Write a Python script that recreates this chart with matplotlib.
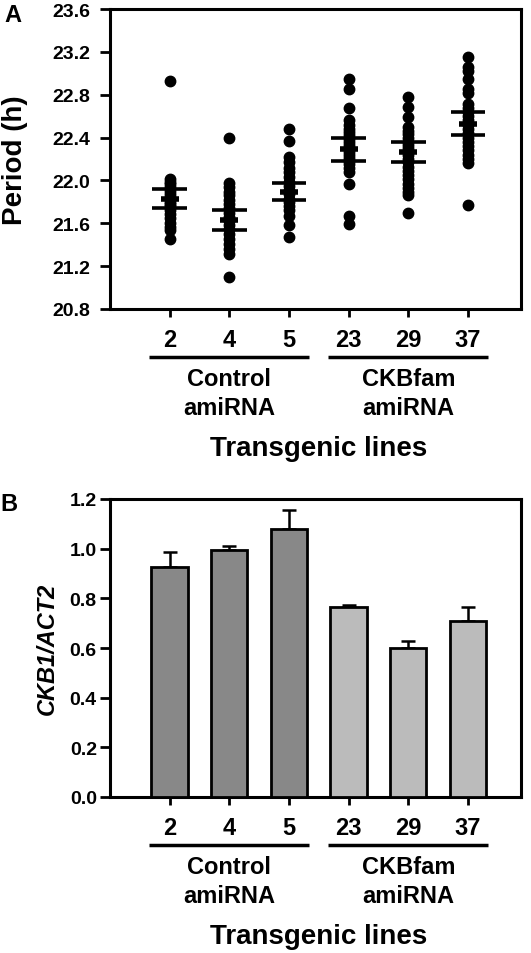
import numpy as np
import matplotlib
matplotlib.use("Agg")
import matplotlib.pyplot as plt

plt.rcParams['font.family'] = ['Liberation Sans', 'DejaVu Sans']
plt.rcParams['font.weight'] = 'bold'

lines = ['2', '4', '5', '23', '29', '37']

# free-running period of individual seedlings (h)
period_2 = [22.93, 22.01, 21.99, 21.97, 21.94, 21.90, 21.87, 21.85, 21.83, 21.80,
            21.78, 21.76, 21.72, 21.69, 21.65, 21.60, 21.57, 21.54, 21.45]
period_4 = [22.40, 21.98, 21.94, 21.89, 21.86, 21.82, 21.78, 21.74, 21.70, 21.66,
            21.62, 21.58, 21.55, 21.50, 21.45, 21.41, 21.36, 21.31, 21.10]
period_5 = [22.48, 22.37, 22.22, 22.17, 22.12, 22.08, 22.03, 21.99, 21.95, 21.91,
            21.87, 21.83, 21.80, 21.76, 21.72, 21.67, 21.58, 21.47]
period_23 = [22.95, 22.85, 22.68, 22.56, 22.52, 22.48, 22.45, 22.42, 22.39, 22.36,
             22.33, 22.30, 22.27, 22.24, 22.21, 22.18, 22.15, 22.12, 22.08, 21.97,
             21.67, 21.59]
period_29 = [22.78, 22.69, 22.59, 22.50, 22.46, 22.43, 22.40, 22.36, 22.33, 22.30,
             22.27, 22.24, 22.20, 22.17, 22.13, 22.09, 22.05, 22.01, 21.97, 21.93,
             21.89, 21.86, 21.70]
period_37 = [23.15, 23.06, 23.02, 22.95, 22.85, 22.82, 22.71, 22.68, 22.64, 22.60,
             22.56, 22.52, 22.48, 22.44, 22.40, 22.36, 22.32, 22.28, 22.24, 22.20,
             22.16, 21.77]

period_mean = [21.83, 21.63, 21.895, 22.29, 22.265, 22.53]
period_sem = [0.09, 0.09, 0.08, 0.105, 0.09, 0.11]

# CKB1 expression relative to ACT2
ckb1 = [0.926, 0.996, 1.079, 0.767, 0.602, 0.708]
ckb1_err = [0.062, 0.016, 0.075, 0.008, 0.028, 0.056]
bar_colors = ['#888888', '#888888', '#888888', '#bbbbbb', '#bbbbbb', '#bbbbbb']

groups = ['Control\namiRNA', 'CKBfam\namiRNA']

W, H = 531, 954
fig = plt.figure(figsize=(W / 100, H / 100), dpi=100)


def px_axes(left, top, right, bottom):
    return fig.add_axes([left / W, 1 - bottom / H, (right - left) / W, (bottom - top) / H])


ax1 = px_axes(110, 10, 521, 310)
ax2 = px_axes(110, 500, 521, 798)
x = np.arange(1, len(lines) + 1)

all_periods = [period_2, period_4, period_5, period_23, period_29, period_37]
for xi, vals in zip(x, all_periods):
    ax1.plot([xi] * len(vals), vals, 'o', color='black', ms=7.5, mec='black')
for xi, m, s in zip(x, period_mean, period_sem):
    ax1.plot([xi - 0.29, xi + 0.29], [m + s, m + s], color='black', lw=2.6, solid_capstyle='butt')
    ax1.plot([xi - 0.29, xi + 0.29], [m - s, m - s], color='black', lw=2.6, solid_capstyle='butt')
    ax1.plot([xi - 0.15, xi + 0.15], [m, m], color='black', lw=4, solid_capstyle='butt')

ax1.set_ylim(20.8, 23.6)
ax1.set_yticks(np.arange(20.8, 23.61, 0.4))
ax1.set_yticklabels(['%.1f' % v for v in np.arange(20.8, 23.61, 0.4)])
ax1.set_ylabel('Period (h)', fontsize=20, fontweight='bold')
ax1.yaxis.set_label_coords(-0.2, 0.5)

ax2.bar(x, ckb1, width=0.61, color=bar_colors, edgecolor='black', linewidth=2, zorder=3)
ax2.errorbar(x, ckb1, yerr=[np.zeros(len(ckb1)), ckb1_err], fmt='none', ecolor='black',
             elinewidth=1.8, capsize=5, capthick=1.8, zorder=2)
ax2.set_ylim(0, 1.2)
ax2.set_yticks(np.arange(0, 1.21, 0.2))
ax2.set_yticklabels(['%.1f' % v for v in np.arange(0, 1.21, 0.2)])
ax2.set_ylabel('CKB1/ACT2', fontsize=17, fontweight='bold', fontstyle='italic')
ax2.yaxis.set_label_coords(-0.125, 0.5)

for ax, ypad in ((ax1, 7), (ax2, 2.5)):
    ax.set_xlim(0, 6.89)
    ax.set_xticks(x)
    ax.set_xticklabels(lines, fontsize=17, fontweight='bold')
    for sp in ax.spines.values():
        sp.set_linewidth(2.2)
    ax.tick_params(axis='y', direction='out', length=7, width=2, labelsize=14, pad=ypad)
    ax.tick_params(axis='x', direction='out', length=6, width=2, pad=8)
    tr = ax.get_xaxis_transform()
    axh = ax.get_position().height * H
    for (a, b), label, cx in zip([(0.66, 3.34), (3.66, 6.34)], groups, [2, 5]):
        ax.plot([a, b], [-48 / axh, -48 / axh], transform=tr, color='black', lw=2.5,
                clip_on=False, solid_capstyle='butt')
        ax.text(cx, -84 / axh, label, transform=tr, ha='center', va='center',
                fontsize=17, fontweight='bold', linespacing=1.3)
    ax.text(3.5, -139 / axh, 'Transgenic lines', transform=tr, ha='center', va='center',
            fontsize=20, fontweight='bold')

fig.text(4 / W, 1 - 16 / H, 'A', fontsize=17, fontweight='bold', ha='left', va='center')
fig.text(0 / W, 1 - 505 / H, 'B', fontsize=17, fontweight='bold', ha='left', va='center')

fig.savefig('out.png', dpi=100)
